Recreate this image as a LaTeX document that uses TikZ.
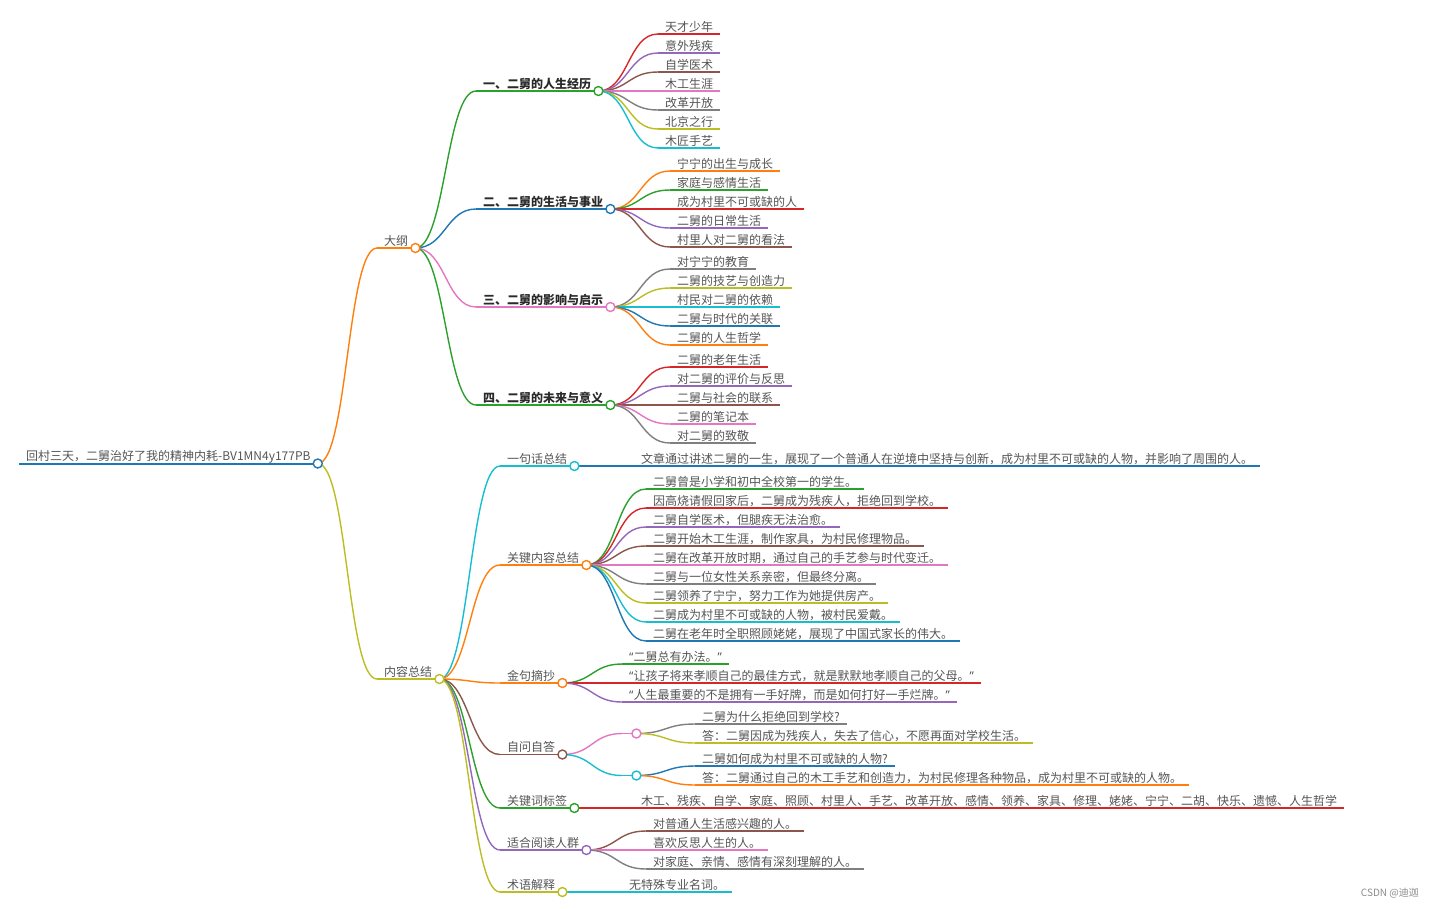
\documentclass[tikz,border=0pt]{standalone}
\usepackage{fontspec}
\setmainfont{Noto Sans CJK SC}
\newfontfamily\qtfont{Noto Sans}
\newcommand\mylq{{\qtfont “}}
\newcommand\myrq{{\qtfont ”}}
\definecolor{cBlue}{HTML}{1F77B4}
\definecolor{cOrange}{HTML}{FF7F0E}
\definecolor{cGreen}{HTML}{2CA02C}
\definecolor{cRed}{HTML}{D62728}
\definecolor{cPurple}{HTML}{9467BD}
\definecolor{cBrown}{HTML}{8C564B}
\definecolor{cPink}{HTML}{E377C2}
\definecolor{cGray}{HTML}{7F7F7F}
\definecolor{cOlive}{HTML}{BCBD22}
\definecolor{cCyan}{HTML}{17BECF}
\definecolor{txtgray}{HTML}{555555}
\definecolor{txtdark}{HTML}{2A2A2A}
\tikzset{
  mmtxt/.style={inner xsep=7pt, inner ysep=0pt, font=\fontsize{12}{14}\selectfont, text=txtgray},
  hd/.style={font=\fontsize{12}{14}\selectfont\bfseries, text=txtdark},
  mmline/.style={line width=1.4pt},
  rootline/.style={line width=2pt},
  mark text/.style={font=\fontsize{10}{12}\selectfont, text=black!45, inner sep=0pt},
}
% name, x, y, colour, style, text
\newcommand\mmnode[6]{%
  \coordinate (#1-s) at (#2,#3);
  \node[mmtxt,#5,anchor=base west] (#1) at (#2,#3-3) {#6};
  \coordinate (#1-e) at (#1.east |- #1-s);
  \draw[mmline,#4] (#1-s) -- (#1-e);
}
\newcommand\mmlink[3]{\draw[mmline,#3] (#1-e) .. controls +(30,0) and +(-30,0) .. (#2-s);}
\newcommand\mmdot[2]{\draw[line width=1.4pt, draw=#2, fill=white] (#1-e) circle[radius=4.5];}
\begin{document}
\begin{tikzpicture}[x=1pt,y=-1pt]
\useasboundingbox (0,0) rectangle (1434,908);
% root
\coordinate (r-s) at (19,463.5);
\node[mmtxt,anchor=base west] (r) at (19,460.5) {回村三天，二舅治好了我的精神内耗-BV1MN4y177PB};
\coordinate (r-e) at (r.east |- r-s);
\draw[rootline,cBlue] (r-s) -- (r-e);
% level 1
\mmnode{dg}{377}{248}{cOrange}{}{大纲}
\mmnode{nr}{377}{679}{cOlive}{}{内容总结}
% level 2 outline
\mmnode{a1}{476}{91}{cGreen}{hd}{一、二舅的人生经历}
\mmnode{a2}{476}{209}{cBlue}{hd}{二、二舅的生活与事业}
\mmnode{a3}{476}{307}{cPink}{hd}{三、二舅的影响与启示}
\mmnode{a4}{476}{405}{cGreen}{hd}{四、二舅的未来与意义}
% a1 children
\mmnode{a1c1}{658}{34}{cRed}{}{天才少年}
\mmnode{a1c2}{658}{53}{cPurple}{}{意外残疾}
\mmnode{a1c3}{658}{72}{cBrown}{}{自学医术}
\mmnode{a1c4}{658}{91}{cPink}{}{木工生涯}
\mmnode{a1c5}{658}{110}{cGray}{}{改革开放}
\mmnode{a1c6}{658}{129}{cOlive}{}{北京之行}
\mmnode{a1c7}{658}{148}{cCyan}{}{木匠手艺}
% a2 children
\mmnode{a2c1}{670}{171}{cOrange}{}{宁宁的出生与成长}
\mmnode{a2c2}{670}{190}{cGreen}{}{家庭与感情生活}
\mmnode{a2c3}{670}{209}{cRed}{}{成为村里不可或缺的人}
\mmnode{a2c4}{670}{228}{cPurple}{}{二舅的日常生活}
\mmnode{a2c5}{670}{247}{cBrown}{}{村里人对二舅的看法}
% a3 children
\mmnode{a3c1}{670}{269}{cGray}{}{对宁宁的教育}
\mmnode{a3c2}{670}{288}{cOlive}{}{二舅的技艺与创造力}
\mmnode{a3c3}{670}{307}{cCyan}{}{村民对二舅的依赖}
\mmnode{a3c4}{670}{326}{cBlue}{}{二舅与时代的关联}
\mmnode{a3c5}{670}{345}{cOrange}{}{二舅的人生哲学}
% a4 children
\mmnode{a4c1}{670}{367}{cRed}{}{二舅的老年生活}
\mmnode{a4c2}{670}{386}{cPurple}{}{对二舅的评价与反思}
\mmnode{a4c3}{670}{405}{cBrown}{}{二舅与社会的联系}
\mmnode{a4c4}{670}{424}{cPink}{}{二舅的笔记本}
\mmnode{a4c5}{670}{443}{cGray}{}{对二舅的致敬}
% level 2 content
\mmnode{b1}{500}{466}{cCyan}{}{一句话总结}
\mmnode{b2}{500}{565}{cOrange}{}{关键内容总结}
\mmnode{b3}{500}{683}{cOrange}{}{金句摘抄}
\mmnode{b4}{500}{754.5}{cBrown}{}{自问自答}
\mmnode{b5}{500}{808}{cGreen}{}{关键词标签}
\mmnode{b6}{500}{850}{cPurple}{}{适合阅读人群}
\mmnode{b7}{500}{892}{cOlive}{}{术语解释}
% b1
\mmnode{b1c1}{634}{466}{cBlue}{}{文章通过讲述二舅的一生，展现了一个普通人在逆境中坚持与创新，成为村里不可或缺的人物，并影响了周围的人。}
% b2
\mmnode{b2c1}{646}{489}{cGreen}{}{二舅曾是小学和初中全校第一的学生。}
\mmnode{b2c2}{646}{508}{cRed}{}{因高烧请假回家后，二舅成为残疾人，拒绝回到学校。}
\mmnode{b2c3}{646}{527}{cPurple}{}{二舅自学医术，但腿疾无法治愈。}
\mmnode{b2c4}{646}{546}{cBrown}{}{二舅开始木工生涯，制作家具，为村民修理物品。}
\mmnode{b2c5}{646}{565}{cPink}{}{二舅在改革开放时期，通过自己的手艺参与时代变迁。}
\mmnode{b2c6}{646}{584}{cGray}{}{二舅与一位女性关系亲密，但最终分离。}
\mmnode{b2c7}{646}{603}{cOlive}{}{二舅领养了宁宁，努力工作为她提供房产。}
\mmnode{b2c8}{646}{622}{cCyan}{}{二舅成为村里不可或缺的人物，被村民爱戴。}
\mmnode{b2c9}{646}{641}{cBlue}{}{二舅在老年时全职照顾姥姥，展现了中国式家长的伟大。}
% b3
\mmnode{b3c1}{622}{664}{cGreen}{}{\mylq 二舅总有办法。\myrq}
\mmnode{b3c2}{622}{683}{cRed}{}{\mylq 让孩子将来孝顺自己的最佳方式，就是默默地孝顺自己的父母。\myrq}
\mmnode{b3c3}{622}{702}{cPurple}{}{\mylq 人生最重要的不是拥有一手好牌，而是如何打好一手烂牌。\myrq}
% b4
\mmnode{q1}{622}{733.5}{cPink}{}{}
\mmnode{q2}{622}{775.5}{cCyan}{}{}
\mmnode{q1a}{695}{724}{cGray}{}{二舅为什么拒绝回到学校?}
\mmnode{q1b}{695}{743}{cOlive}{}{答：二舅因成为残疾人，失去了信心，不愿再面对学校生活。}
\mmnode{q2a}{695}{766}{cBlue}{}{二舅如何成为村里不可或缺的人物?}
\mmnode{q2b}{695}{785}{cOrange}{}{答：二舅通过自己的木工手艺和创造力，为村民修理各种物品，成为村里不可或缺的人物。}
% b5
\mmnode{b5c1}{634}{808}{cRed}{}{木工、残疾、自学、家庭、照顾、村里人、手艺、改革开放、感情、领养、家具、修理、姥姥、宁宁、二胡、快乐、遗憾、人生哲学}
% b6
\mmnode{b6c1}{646}{831}{cBrown}{}{对普通人生活感兴趣的人。}
\mmnode{b6c2}{646}{850}{cPink}{}{喜欢反思人生的人。}
\mmnode{b6c3}{646}{869}{cGray}{}{对家庭、亲情、感情有深刻理解的人。}
% b7
\mmnode{b7c1}{622}{892}{cCyan}{}{无特殊专业名词。}
% links
\mmlink{r}{dg}{cOrange}
\mmlink{r}{nr}{cOlive}
\mmlink{dg}{a1}{cGreen}
\mmlink{dg}{a2}{cBlue}
\mmlink{dg}{a3}{cPink}
\mmlink{dg}{a4}{cGreen}
\mmlink{a1}{a1c1}{cRed}
\mmlink{a1}{a1c2}{cPurple}
\mmlink{a1}{a1c3}{cBrown}
\mmlink{a1}{a1c4}{cPink}
\mmlink{a1}{a1c5}{cGray}
\mmlink{a1}{a1c6}{cOlive}
\mmlink{a1}{a1c7}{cCyan}
\mmlink{a2}{a2c1}{cOrange}
\mmlink{a2}{a2c2}{cGreen}
\mmlink{a2}{a2c3}{cRed}
\mmlink{a2}{a2c4}{cPurple}
\mmlink{a2}{a2c5}{cBrown}
\mmlink{a3}{a3c1}{cGray}
\mmlink{a3}{a3c2}{cOlive}
\mmlink{a3}{a3c3}{cCyan}
\mmlink{a3}{a3c4}{cBlue}
\mmlink{a3}{a3c5}{cOrange}
\mmlink{a4}{a4c1}{cRed}
\mmlink{a4}{a4c2}{cPurple}
\mmlink{a4}{a4c3}{cBrown}
\mmlink{a4}{a4c4}{cPink}
\mmlink{a4}{a4c5}{cGray}
\mmlink{nr}{b1}{cCyan}
\mmlink{nr}{b2}{cOrange}
\mmlink{nr}{b3}{cOrange}
\mmlink{nr}{b4}{cBrown}
\mmlink{nr}{b5}{cGreen}
\mmlink{nr}{b6}{cPurple}
\mmlink{nr}{b7}{cOlive}
\mmlink{b1}{b1c1}{cBlue}
\mmlink{b2}{b2c1}{cGreen}
\mmlink{b2}{b2c2}{cRed}
\mmlink{b2}{b2c3}{cPurple}
\mmlink{b2}{b2c4}{cBrown}
\mmlink{b2}{b2c5}{cPink}
\mmlink{b2}{b2c6}{cGray}
\mmlink{b2}{b2c7}{cOlive}
\mmlink{b2}{b2c8}{cCyan}
\mmlink{b2}{b2c9}{cBlue}
\mmlink{b3}{b3c1}{cGreen}
\mmlink{b3}{b3c2}{cRed}
\mmlink{b3}{b3c3}{cPurple}
\mmlink{b4}{q1}{cPink}
\mmlink{b4}{q2}{cCyan}
\mmlink{q1}{q1a}{cGray}
\mmlink{q1}{q1b}{cOlive}
\mmlink{q2}{q2a}{cBlue}
\mmlink{q2}{q2b}{cOrange}
\mmlink{b5}{b5c1}{cRed}
\mmlink{b6}{b6c1}{cBrown}
\mmlink{b6}{b6c2}{cPink}
\mmlink{b6}{b6c3}{cGray}
\mmlink{b7}{b7c1}{cCyan}
% dots
\mmdot{r}{cBlue}
\mmdot{dg}{cOrange}
\mmdot{nr}{cOlive}
\mmdot{a1}{cGreen}
\mmdot{a2}{cBlue}
\mmdot{a3}{cPink}
\mmdot{a4}{cGreen}
\mmdot{b1}{cCyan}
\mmdot{b2}{cOrange}
\mmdot{b3}{cOrange}
\mmdot{b4}{cBrown}
\mmdot{b5}{cGreen}
\mmdot{b6}{cPurple}
\mmdot{b7}{cOlive}
\mmdot{q1}{cPink}
\mmdot{q2}{cCyan}
% watermark
\node[mark text, anchor=east] (wm) at (1419,893) {CSDN @迪迦};
\end{tikzpicture}
\end{document}
